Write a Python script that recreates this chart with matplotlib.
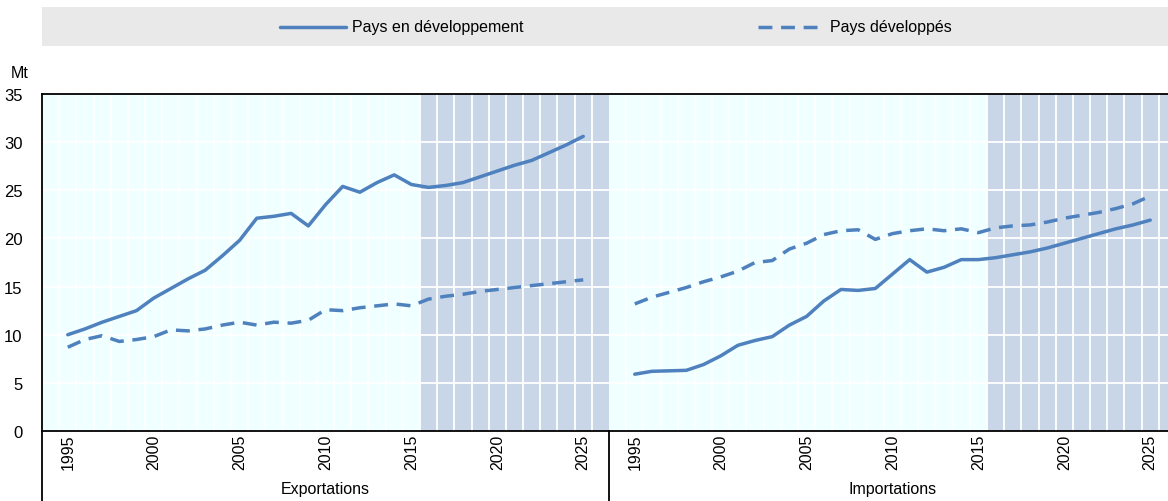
import matplotlib
matplotlib.use('Agg')
import matplotlib.pyplot as plt
from matplotlib.lines import Line2D
import numpy as np

plt.rcParams['font.family'] = ['Liberation Sans', 'DejaVu Sans']

years = list(range(1995, 2026))
groups = ['Exportations', 'Importations']
series_names = ['Pays en développement', 'Pays développés']

exp_dev = [10.0, 10.6, 11.3, 11.9, 12.5, 13.8, 14.8, 15.8, 16.7, 18.2, 19.8,
           22.1, 22.3, 22.6, 21.3, 23.5, 25.4, 24.8, 25.8, 26.6, 25.6,
           25.3, 25.5, 25.8, 26.4, 27.0, 27.6, 28.1, 28.9, 29.7, 30.6]
exp_ind = [8.7, 9.5, 9.9, 9.3, 9.5, 9.8, 10.5, 10.4, 10.6, 11.0, 11.3,
           11.0, 11.3, 11.2, 11.5, 12.6, 12.5, 12.8, 13.0, 13.2, 13.0,
           13.7, 14.0, 14.2, 14.5, 14.7, 14.9, 15.1, 15.3, 15.5, 15.7]
imp_dev = [5.9, 6.2, 6.25, 6.3, 6.9, 7.8, 8.9, 9.4, 9.8, 11.0, 11.9,
           13.5, 14.7, 14.6, 14.8, 16.3, 17.8, 16.5, 17.0, 17.8, 17.8,
           18.0, 18.3, 18.6, 19.0, 19.5, 20.0, 20.5, 21.0, 21.4, 21.9]
imp_ind = [13.2, 13.9, 14.4, 14.9, 15.5, 16.0, 16.6, 17.5, 17.7, 18.9, 19.5,
           20.4, 20.8, 20.9, 19.9, 20.5, 20.8, 21.0, 20.8, 21.0, 20.6,
           21.1, 21.3, 21.4, 21.7, 22.1, 22.4, 22.7, 23.1, 23.6, 24.4]
proj_start = 2016

LINE = '#4E81BD'
BG = '#F0FFFF'
SHADE = '#C8D6E8'

W, H = 1168, 502
fig = plt.figure(figsize=(W / 100, H / 100), dpi=100)
# axes runs past the right edge, like the cropped original
ax = fig.add_axes([42 / W, 1 - 432 / H, 1134 / W, 337 / H])

n = len(years)
slot = n + 2                      # one blank slot each side of a group
offsets = [0, slot]
x0 = np.arange(n)

ax.set_xlim(-1.5, 2 * slot - 1.5)
ax.set_ylim(0, 35)

for off in offsets:
    left = off - 1.5
    ps = off + (proj_start - years[0]) - 0.5
    right = off + n + 0.5
    ax.axvspan(left, ps, color=BG, lw=0, zorder=0)
    ax.axvspan(ps, right, color=SHADE, lw=0, zorder=0)
    for b in np.arange(left + 1, right, 1.0):
        ax.axvline(b, color='white', lw=1.3, zorder=1)

for yv in range(5, 35, 5):
    ax.axhline(yv, color='white', lw=1.3, zorder=1)

dash = (0, (4, 2.5))
ax.plot(x0, exp_dev, color=LINE, lw=2.5, zorder=3, solid_capstyle='round')
ax.plot(x0, exp_ind, color=LINE, lw=2.5, ls=dash, zorder=3)
ax.plot(x0 + slot, imp_dev, color=LINE, lw=2.5, zorder=3, solid_capstyle='round')
ax.plot(x0 + slot, imp_ind, color=LINE, lw=2.5, ls=dash, zorder=3)

ax.spines['right'].set_visible(False)
for s in ['left', 'top', 'bottom']:
    ax.spines[s].set_linewidth(1.3)
    ax.spines[s].set_color('black')

ax.set_yticks(range(0, 36, 5))
ax.tick_params(axis='y', length=0, labelsize=12, pad=14)
tick_pos, tick_lab = [], []
for off in offsets:
    for yr in range(1995, 2026, 5):
        tick_pos.append(off + yr - years[0])
        tick_lab.append(str(yr))
ax.set_xticks(tick_pos)
ax.set_xticklabels(tick_lab, rotation=90, fontsize=11.5)
ax.tick_params(axis='x', length=0, pad=2)

# group separators and labels below the axis
for xv in [-1.5, slot - 1.5]:
    ax.add_line(Line2D([xv, xv], [0, -7.3], color='black', lw=1.3,
                       clip_on=False))
for g, off in enumerate(offsets):
    ax.text(off + (n - 1) / 2, -6.0, groups[g], ha='center', va='center',
            fontsize=11.5)

fig.text(20 / W, 1 - 73 / H, 'Mt', ha='center', va='center', fontsize=11.5)

# legend band
lax = fig.add_axes([42 / W, 1 - 47 / H, (W - 42) / W, 39 / H])
lax.set_xlim(0, W - 42)
lax.set_ylim(0, 1)
lax.axis('off')
lax.add_patch(plt.Rectangle((0, 0), W - 42, 1, color='#E9E9E9', lw=0))
lax.plot([280 - 42, 346 - 42], [0.5, 0.5], color=LINE, lw=2.5,
         solid_capstyle='round')
lax.text(352 - 42, 0.5, series_names[0], va='center', fontsize=11.5)
lax.plot([758 - 42, 824 - 42], [0.5, 0.5], color=LINE, lw=2.5, ls=dash)
lax.text(830 - 42, 0.5, series_names[1], va='center', fontsize=11.5)

fig.savefig('out.png', dpi=100)
